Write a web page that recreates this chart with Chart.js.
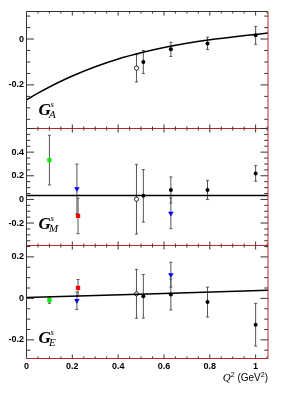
<!DOCTYPE html>
<html>
<head>
<meta charset="utf-8">
<script src="https://cdn.jsdelivr.net/npm/chart.js@4.4.1/dist/chart.umd.min.js"></script>
<style>
  html, body { margin: 0; padding: 0; background: #fff; }
  #wrap { position: relative; width: 298px; height: 399px; }
  #wrap canvas { position: absolute; left: 0; top: 0; }
</style>
</head>
<body>
<div id="wrap">
  <canvas id="panelA" width="298" height="399"></canvas>
  <canvas id="panelM" width="298" height="399"></canvas>
  <canvas id="panelE" width="298" height="399"></canvas>
</div>
<script>
// x axis (Q^2, GeV^2)
const Q2_MAX = 1.054
const xTickValues = [0, 0.2, 0.4, 0.6, 0.8, 1]
const xTickLabels = ['0', '0.2', '0.4', '0.6', '0.8', '1']

// measurement positions
const q2Black = [0.51, 0.63, 0.79, 1.0]
const q2Open = [0.48]
const q2Green = [0.1]
const q2Red = [0.225]
const q2Blue = [0.22, 0.63]

// G_A^s
const gaBlack = [-0.10, -0.045, -0.019, 0.016]
const gaBlackErr = [0.05, 0.031, 0.027, 0.039]
const gaOpen = [-0.127]
const gaOpenErr = [0.06]
const gaCurveQ2 = [0, 0.05, 0.1, 0.15, 0.2, 0.3, 0.4, 0.5, 0.6, 0.7, 0.8, 0.9, 1.0, 1.054]
const gaCurve = [-0.265, -0.236, -0.209, -0.184, -0.161, -0.121, -0.087, -0.060, -0.037, -0.018, -0.003, 0.009, 0.020, 0.026]
const gaYTicks = [-0.2, 0]
const gaYLabels = ['-0.2', '0']

// G_M^s
const gmBlack = [0.03, 0.08, 0.08, 0.22]
const gmBlackErr = [0.222, 0.11, 0.081, 0.066]
const gmOpen = [0.002]
const gmOpenErr = [0.295]
const gmGreen = [0.333]
const gmGreenErr = [0.21]
const gmRed = [-0.14]
const gmRedErr = [0.15]
const gmBlue = [0.089, -0.118]
const gmBlueErr = [0.21, 0.13]
const gmFitQ2 = [0, 1.054]
const gmFit = [0.033, 0.033]
const gmYTicks = [-0.2, 0, 0.2, 0.4]
const gmYLabels = ['-0.2', '0', '0.2', '0.4']

// G_E^s
const geBlack = [0.01, 0.019, -0.018, -0.127]
const geBlackErr = [0.105, 0.075, 0.072, 0.103]
const geOpen = [0.022]
const geOpenErr = [0.118]
const geGreen = [-0.008]
const geGreenErr = [0.016]
const geRed = [0.051]
const geRedErr = [0.04]
const geBlue = [-0.011, 0.114]
const geBlueErr = [0.042, 0.06]
const geFitQ2 = [0, 1.054]
const geFit = [0.004, 0.039]
const geYTicks = [-0.2, 0, 0.2]
const geYLabels = ['-0.2', '0', '0.2']

const pts = (xs, ys) => xs.map((x, i) => ({ x, y: ys[i] }))

const errorBars = {
  id: 'errorBars',
  beforeDatasetsDraw(chart) {
    const { ctx, scales: { x, y } } = chart
    ctx.save()
    ctx.strokeStyle = '#555'
    ctx.lineWidth = 1
    chart.data.datasets.forEach(ds => {
      if (!ds.errors) return
      ds.data.forEach((p, i) => {
        const px = x.getPixelForValue(p.x)
        const top = y.getPixelForValue(p.y + ds.errors[i])
        const bot = y.getPixelForValue(p.y - ds.errors[i])
        ctx.beginPath()
        ctx.moveTo(px, top); ctx.lineTo(px, bot)
        ctx.moveTo(px - 1.5, top); ctx.lineTo(px + 1.5, top)
        ctx.moveTo(px - 1.5, bot); ctx.lineTo(px + 1.5, bot)
        ctx.stroke()
      })
    })
    ctx.restore()
  }
}

const isMajor = (v, step) => Math.abs(v / step - Math.round(v / step)) < 1e-6

const rootFrame = {
  id: 'rootFrame',
  afterDraw(chart, args, opts) {
    const { ctx, chartArea: a, scales: { x, y } } = chart
    ctx.save()

    // ticks, inside on all four sides
    ctx.strokeStyle = '#333'
    ctx.lineWidth = 1
    ctx.beginPath()
    for (let k = 0; k * 0.05 <= Q2_MAX; k++) {
      const v = k * 0.05
      const px = x.getPixelForValue(v)
      const len = isMajor(v, 0.2) ? 4 : 2
      ctx.moveTo(px, a.top); ctx.lineTo(px, a.top + len)
      ctx.moveTo(px, a.bottom); ctx.lineTo(px, a.bottom - len)
    }
    const yStart = Math.ceil(y.min / 0.05 - 1e-6)
    for (let k = yStart; k * 0.05 <= y.max + 1e-6; k++) {
      const v = k * 0.05
      const py = y.getPixelForValue(v)
      const len = isMajor(v, 0.2) ? 7.5 : 3.75
      ctx.moveTo(a.left, py); ctx.lineTo(a.left + len, py)
      ctx.moveTo(a.right, py); ctx.lineTo(a.right - len, py)
    }
    ctx.stroke()

    // frame
    ctx.strokeStyle = '#333'
    ctx.beginPath()
    ctx.moveTo(a.left, a.bottom); ctx.lineTo(a.left, a.top)
    if (opts.drawTop) ctx.lineTo(a.right, a.top)
    ctx.stroke()
    ctx.strokeStyle = '#b52a2a'
    ctx.beginPath()
    ctx.moveTo(a.left, a.bottom); ctx.lineTo(a.right, a.bottom); ctx.lineTo(a.right, a.top)
    ctx.stroke()

    // y tick labels
    ctx.fillStyle = '#000'
    ctx.font = 'bold 9px "Liberation Sans"'
    ctx.textAlign = 'right'
    ctx.textBaseline = 'middle'
    opts.yTicks.forEach((v, i) => {
      ctx.fillText(opts.yLabels[i], a.left - 2.5, y.getPixelForValue(v))
    })

    // x tick labels and title on the lowest panel
    if (opts.xLabels) {
      ctx.textAlign = 'center'
      xTickValues.forEach((v, i) => {
        ctx.fillText(xTickLabels[i], x.getPixelForValue(v), a.bottom + 8)
      })
      const parts = [
        { t: 'Q', f: 'italic 11px "Liberation Serif"', dy: 0 },
        { t: '2', f: '7px "Liberation Sans"', dy: -4 },
        { t: ' (GeV', f: '10px "Liberation Sans"', dy: 0 },
        { t: '2', f: '7px "Liberation Sans"', dy: -4 },
        { t: ')', f: '10px "Liberation Sans"', dy: 0 }
      ]
      let total = 0
      parts.forEach(p => { ctx.font = p.f; p.w = ctx.measureText(p.t).width; total += p.w })
      let tx = a.right - total
      ctx.textAlign = 'left'
      ctx.textBaseline = 'alphabetic'
      parts.forEach(p => {
        ctx.font = p.f
        ctx.fillText(p.t, tx, a.bottom + 22.5 + p.dy)
        tx += p.w
      })
    }

    // panel label G^s_X
    const gx = a.left + 12
    const gy = a.bottom - opts.labelRise
    ctx.textAlign = 'left'
    ctx.textBaseline = 'alphabetic'
    ctx.font = 'bold italic 17px "Liberation Serif"'
    ctx.fillText('G', gx, gy)
    ctx.font = 'italic 9px "Liberation Serif"'
    ctx.fillText('s', gx + 12, gy - 8.5)
    ctx.font = 'italic 11px "Liberation Serif"'
    ctx.fillText(opts.sub, gx + 10.5, gy + 3)

    ctx.restore()
  }
}

const blackSet = (xs, ys, err) => ({
  data: pts(xs, ys), errors: err, pointStyle: 'circle', pointRadius: 2,
  backgroundColor: '#000', borderColor: '#000', borderWidth: 0
})
const openSet = (xs, ys, err) => ({
  data: pts(xs, ys), errors: err, pointStyle: 'circle', pointRadius: 2.1,
  backgroundColor: '#fff', borderColor: '#000', borderWidth: 0.8
})
const squareSet = (xs, ys, err, color) => ({
  data: pts(xs, ys), errors: err, pointStyle: 'rect', pointRadius: 3,
  backgroundColor: color, borderColor: color, borderWidth: 0
})
const triangleSet = (xs, ys, err) => ({
  data: pts(xs, ys), errors: err, pointStyle: 'triangle', rotation: 180, pointRadius: 3.2,
  backgroundColor: '#0000ff', borderColor: '#0000ff', borderWidth: 0
})
const curveSet = (xs, ys) => ({
  data: pts(xs, ys), showLine: true, pointRadius: 0, borderColor: '#000',
  borderWidth: 1.5, cubicInterpolationMode: 'monotone'
})

function makePanel(id, datasets, p) {
  return new Chart(document.getElementById(id), {
    type: 'scatter',
    data: { datasets },
    options: {
      responsive: false,
      animation: false,
      devicePixelRatio: 1,
      layout: { padding: { left: 26.5, right: 30, top: p.top, bottom: 399 - p.bottom } },
      scales: {
        x: { type: 'linear', min: 0, max: Q2_MAX, display: false },
        y: { type: 'linear', min: p.yMin, max: p.yMax, display: false }
      },
      plugins: {
        legend: { display: false },
        tooltip: { enabled: false },
        rootFrame: p.frame
      }
    },
    plugins: [errorBars, rootFrame]
  })
}

makePanel('panelA', [
  curveSet(gaCurveQ2, gaCurve),
  openSet(q2Open, gaOpen, gaOpenErr),
  blackSet(q2Black, gaBlack, gaBlackErr)
], { top: 11.5, bottom: 128.5, yMin: -0.39, yMax: 0.12,
  frame: { drawTop: true, yTicks: gaYTicks, yLabels: gaYLabels, sub: 'A', labelRise: 13.5 } })

makePanel('panelM', [
  curveSet(gmFitQ2, gmFit),
  openSet(q2Open, gmOpen, gmOpenErr),
  blackSet(q2Black, gmBlack, gmBlackErr),
  squareSet(q2Green, gmGreen, gmGreenErr, '#00ee00'),
  squareSet(q2Red, gmRed, gmRedErr, '#ff0000'),
  triangleSet(q2Blue, gmBlue, gmBlueErr)
], { top: 128.5, bottom: 245.5, yMin: -0.39, yMax: 0.6,
  frame: { drawTop: false, yTicks: gmYTicks, yLabels: gmYLabels, sub: 'M', labelRise: 16.5 } })

makePanel('panelE', [
  curveSet(geFitQ2, geFit),
  openSet(q2Open, geOpen, geOpenErr),
  blackSet(q2Black, geBlack, geBlackErr),
  squareSet(q2Green, geGreen, geGreenErr, '#00ee00'),
  squareSet(q2Red, geRed, geRedErr, '#ff0000'),
  triangleSet(q2Blue, geBlue, geBlueErr)
], { top: 245.5, bottom: 358.5, yMin: -0.29, yMax: 0.255,
  frame: { drawTop: false, yTicks: geYTicks, yLabels: geYLabels, sub: 'E', labelRise: 15.5, xLabels: true } })
</script>
</body>
</html>
